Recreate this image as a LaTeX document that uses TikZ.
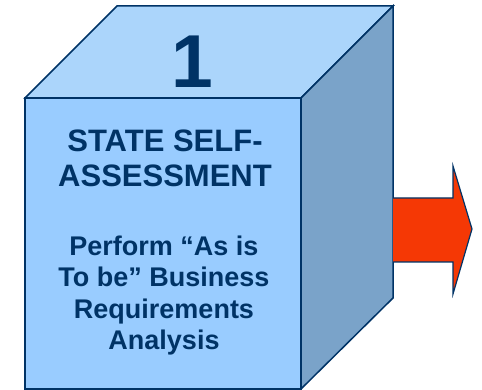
\documentclass[tikz,border=0pt]{standalone}
\usepackage{fontspec}
\setmainfont{Liberation Sans}
\definecolor{navy}{HTML}{003366}
\definecolor{topface}{HTML}{ABD5FB}
\definecolor{frontface}{HTML}{99CCFF}
\definecolor{sideface}{HTML}{7AA3C9}
\definecolor{arrowred}{HTML}{F53805}
\begin{document}
\begin{tikzpicture}[x=1pt,y=-1pt,
  face/.style={draw=navy,line width=1.5pt,line join=miter},
  txt/.style={text=navy,font=\bfseries,anchor=base,inner sep=0pt},
  head/.style={txt,font=\bfseries\fontsize{31}{35}\selectfont},
  body/.style={txt,font=\bfseries\fontsize{27}{31}\selectfont}]
\useasboundingbox (0,0) rectangle (482,390);
% cube
\fill[white] (0,0) rectangle (482,390);
\draw[face,fill=topface] (25,98) -- (117,6) -- (393,6) -- (301,98) -- cycle;
\draw[face,fill=sideface] (301,98) -- (393,6) -- (393,298) -- (301,389) -- cycle;
\draw[face,fill=frontface] (25,98) rectangle (301,389);
% arrow
\draw[draw=navy,line width=1.2pt,fill=arrowred,line join=miter]
  (393,198) -- (453,198) -- (453,166) -- (472,229) -- (453,294) -- (453,262) -- (393,262);
% texts
\node[txt,font=\bfseries\fontsize{75}{75}\selectfont] (num) at (192,88) {1};
\node[head] (h1) at (165,151.5) {STATE SELF-};
\node[head] (h2) at (165,186.5) {ASSESSMENT};
\node[body] (p1) at (164,255) {Perform “As is};
\node[body] (p2) at (164,286.5) {To be” Business};
\node[body] (p3) at (164,318) {Requirements};
\node[body] (p4) at (164,349.5) {Analysis};
\end{tikzpicture}
\end{document}
